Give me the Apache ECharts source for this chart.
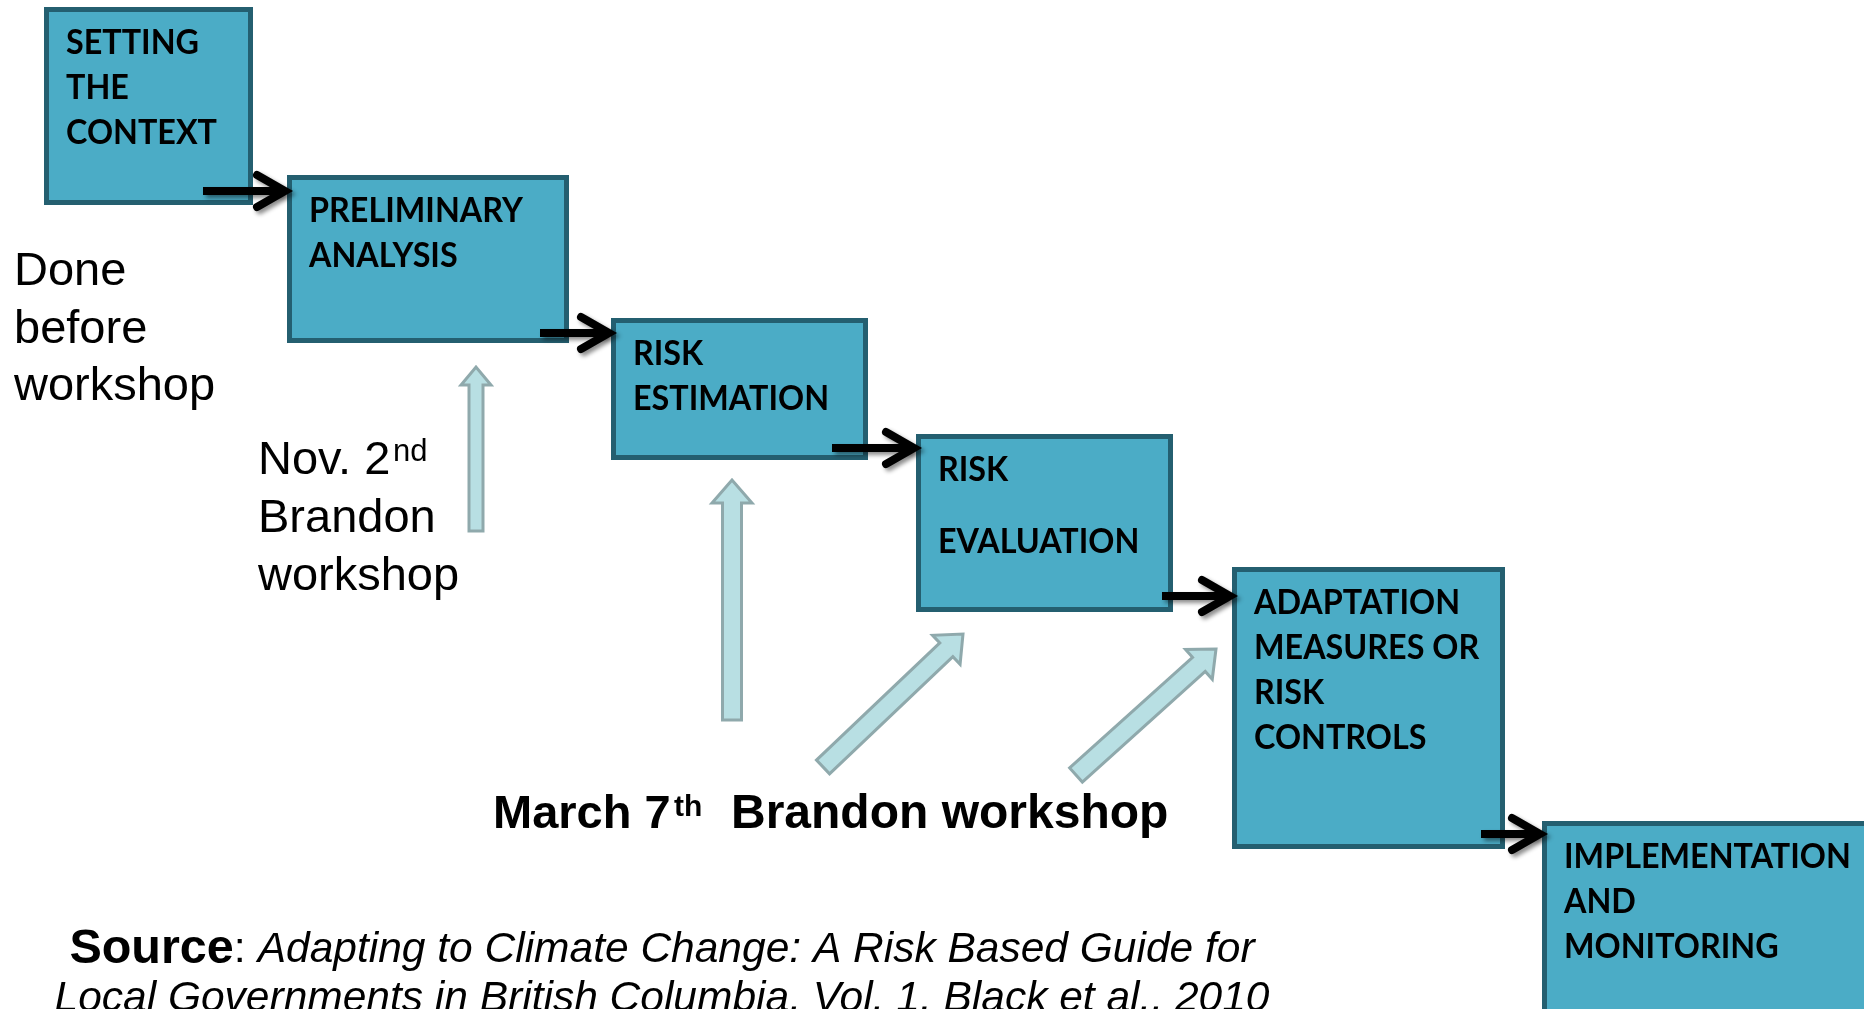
<!DOCTYPE html>
<html>
<head>
<meta charset="utf-8">
<script src="https://cdn.jsdelivr.net/npm/echarts@6/dist/echarts.min.js"></script>
<style>
html, body { margin: 0; padding: 0; background: #ffffff; }
#chart { width: 1864px; height: 1009px; }
</style>
</head>
<body>
<div id="chart"></div>
<script>
// ---- Process steps (diagram units on hidden value axes) ----
const stepLabels = [
  'SETTING\nTHE\nCONTEXT',
  'PRELIMINARY\nANALYSIS',
  'RISK\nESTIMATION',
  'RISK\n\nEVALUATION',
  'ADAPTATION\nMEASURES OR\nRISK\nCONTROLS',
  'IMPLEMENTATION\nAND\nMONITORING'
];
const stepLeft   = [44, 287, 611, 916, 1232, 1542];
const stepTop    = [7, 175, 318, 434, 567, 821];
const stepRight  = [253, 569, 868, 1173, 1505, 1900];
const stepBottom = [205, 343, 460, 612, 849, 1040];

// ---- Flow arrows from one step to the next ----
const flowStartX = [203, 540, 832, 1162, 1481];
const flowTipX   = [287, 611, 916, 1232, 1542];
const flowY      = [191, 333, 448, 596, 834];

// ---- Workshop arrows (Nov. 2nd, then three for March 7th) ----
const workshopNames = ['Nov. 2nd', 'March 7th', 'March 7th', 'March 7th'];
const workshopTailX = [476, 732, 823, 1076];
const workshopTailY = [531, 720, 767, 775];
const workshopTipX  = [476, 732, 963, 1216];
const workshopTipY  = [367, 480, 634, 649];

// ---- Annotation texts ----
const doneText = 'Done\nbefore\nworkshop';
const novText = ['Nov. 2', 'nd', 'Brandon\nworkshop'];
const marchText = ['March 7', 'th', 'Brandon workshop'];
const sourceBold = 'Source';
const sourceLine1 = 'Adapting to Climate Change: A Risk Based Guide for';
const sourceLine2 = 'Local Governments in British Columbia, Vol. 1, Black et al., 2010';

const BOX_FILL = '#4bacc6';
const BOX_STROKE = '#245f70';
const BLOCK_FILL = '#b8dfe3';
const BLOCK_STROKE = '#8fa9ac';
const SANS = '"Liberation Sans", Arial, sans-serif';
const BOXFONT = 'Lato, "Open Sans", sans-serif';

const chart = echarts.init(document.getElementById('chart'), null, { renderer: 'canvas' });

function richLabel(txt) {
  return txt.split('\n').map(l => l ? '{a|' + l + '}' : '{s| }').join('\n');
}

const boxData = stepLabels.map((l, i) => [stepLeft[i], stepTop[i], stepRight[i], stepBottom[i]]);
const flowData = flowY.map((y, i) => [flowStartX[i], flowTipX[i], y]);
const workshopData = workshopNames.map((n, i) => [workshopTailX[i], workshopTailY[i], workshopTipX[i], workshopTipY[i]]);

const option = {
  animation: false,
  backgroundColor: '#ffffff',
  grid: { left: 0, right: 0, top: 0, bottom: 0 },
  xAxis: { type: 'value', min: 0, max: 1864, show: false },
  yAxis: { type: 'value', min: 0, max: 1009, inverse: true, show: false },
  series: [
    {
      type: 'custom',
      name: 'steps',
      clip: false,
      z: 2,
      data: boxData,
      renderItem: function (params, api) {
        const p0 = api.coord([api.value(0), api.value(1)]);
        const p1 = api.coord([api.value(2), api.value(3)]);
        const lw = 5;
        return {
          type: 'group',
          children: [
            {
              type: 'rect',
              shape: { x: p0[0] + lw / 2, y: p0[1] + lw / 2, width: p1[0] - p0[0] - lw, height: p1[1] - p0[1] - lw },
              style: { fill: BOX_FILL, stroke: BOX_STROKE, lineWidth: lw }
            },
            {
              type: 'text',
              x: p0[0] + 22,
              y: p0[1] + 36 - 22.5,
              scaleX: 0.965,
              style: {
                text: richLabel(stepLabels[params.dataIndex]),
                verticalAlign: 'top',
                align: 'left',
                rich: {
                  a: { fontFamily: BOXFONT, fontWeight: 'bold', fontSize: 33.5, lineHeight: 45, fill: '#000' },
                  s: { fontSize: 10, lineHeight: 27 }
                }
              }
            }
          ]
        };
      }
    },
    {
      type: 'custom',
      name: 'flow',
      clip: false,
      z: 3,
      data: flowData,
      renderItem: function (params, api) {
        const s = api.coord([api.value(0), api.value(2)]);
        const t = api.coord([api.value(1), api.value(2)]);
        const shadow = { shadowColor: 'rgba(0,0,0,0.45)', shadowBlur: 4, shadowOffsetX: 3, shadowOffsetY: 3 };
        return {
          type: 'group',
          children: [
            {
              type: 'polyline',
              shape: { points: [[s[0], s[1]], [t[0] - 5, t[1]]] },
              style: Object.assign({ stroke: '#000', lineWidth: 8, lineCap: 'butt', fill: null }, shadow)
            },
            {
              type: 'polyline',
              shape: { points: [[t[0] - 30, t[1] - 16], [t[0] - 2, t[1]], [t[0] - 30, t[1] + 16]] },
              style: Object.assign({ stroke: '#000', lineWidth: 8, lineCap: 'round', lineJoin: 'miter', fill: null }, shadow)
            }
          ]
        };
      }
    },
    {
      type: 'custom',
      name: 'workshops',
      clip: false,
      z: 1,
      data: workshopData,
      renderItem: function (params, api) {
        const T = api.coord([api.value(0), api.value(1)]);
        const P = api.coord([api.value(2), api.value(3)]);
        const small = params.dataIndex === 0;
        const w = small ? 7 : 9.5;
        const h = small ? 15 : 20;
        const L = small ? 18 : 23;
        const dx = P[0] - T[0], dy = P[1] - T[1];
        const len = Math.sqrt(dx * dx + dy * dy);
        const ux = dx / len, uy = dy / len;
        const nx = -uy, ny = ux;
        const B = [P[0] - ux * L, P[1] - uy * L];
        const pts = [
          [T[0] + nx * w, T[1] + ny * w],
          [B[0] + nx * w, B[1] + ny * w],
          [B[0] + nx * h, B[1] + ny * h],
          [P[0], P[1]],
          [B[0] - nx * h, B[1] - ny * h],
          [B[0] - nx * w, B[1] - ny * w],
          [T[0] - nx * w, T[1] - ny * w]
        ];
        return {
          type: 'polygon',
          shape: { points: pts },
          style: { fill: BLOCK_FILL, stroke: BLOCK_STROKE, lineWidth: 3, lineJoin: 'miter' }
        };
      }
    }
  ],
  graphic: [
    {
      type: 'text', x: 14, y: 243.5,
      style: { text: doneText, font: '47px ' + SANS, lineHeight: 57.5, fill: '#000', verticalAlign: 'top', align: 'left' }
    },
    {
      type: 'text', x: 258, y: 461,
      style: { text: novText[0], font: '47px ' + SANS, fill: '#000', verticalAlign: 'middle', align: 'left' }
    },
    {
      type: 'text', x: 393, y: 452,
      style: { text: novText[1], font: '31px ' + SANS, fill: '#000', verticalAlign: 'middle', align: 'left' }
    },
    {
      type: 'text', x: 258, y: 490.5,
      style: { text: novText[2], font: '47px ' + SANS, lineHeight: 57.5, fill: '#000', verticalAlign: 'top', align: 'left' }
    },
    {
      type: 'text', x: 493, y: 815,
      style: { text: marchText[0], font: 'bold 47px ' + SANS, fill: '#000', verticalAlign: 'middle', align: 'left' }
    },
    {
      type: 'text', x: 674, y: 808,
      style: { text: marchText[1], font: 'bold 30px ' + SANS, fill: '#000', verticalAlign: 'middle', align: 'left' }
    },
    {
      type: 'text', x: 731, y: 815,
      style: { text: marchText[2], font: 'bold 48px ' + SANS, fill: '#000', verticalAlign: 'middle', align: 'left' }
    },
    {
      type: 'text', x: 662, y: 950,
      style: {
        text: '{b|' + sourceBold + '}{r|: }{i|' + sourceLine1 + '}',
        align: 'center', verticalAlign: 'middle',
        rich: {
          b: { fontFamily: SANS, fontWeight: 'bold', fontSize: 48.5, fill: '#000' },
          r: { fontFamily: SANS, fontSize: 43, fill: '#000' },
          i: { fontFamily: SANS, fontStyle: 'italic', fontSize: 42.5, fill: '#000' }
        }
      }
    },
    {
      type: 'text', x: 662, y: 999,
      style: { text: sourceLine2, font: 'italic 42.5px ' + SANS, fill: '#000', align: 'center', verticalAlign: 'middle' }
    }
  ]
};
chart.setOption(option);
</script>
</body>
</html>
